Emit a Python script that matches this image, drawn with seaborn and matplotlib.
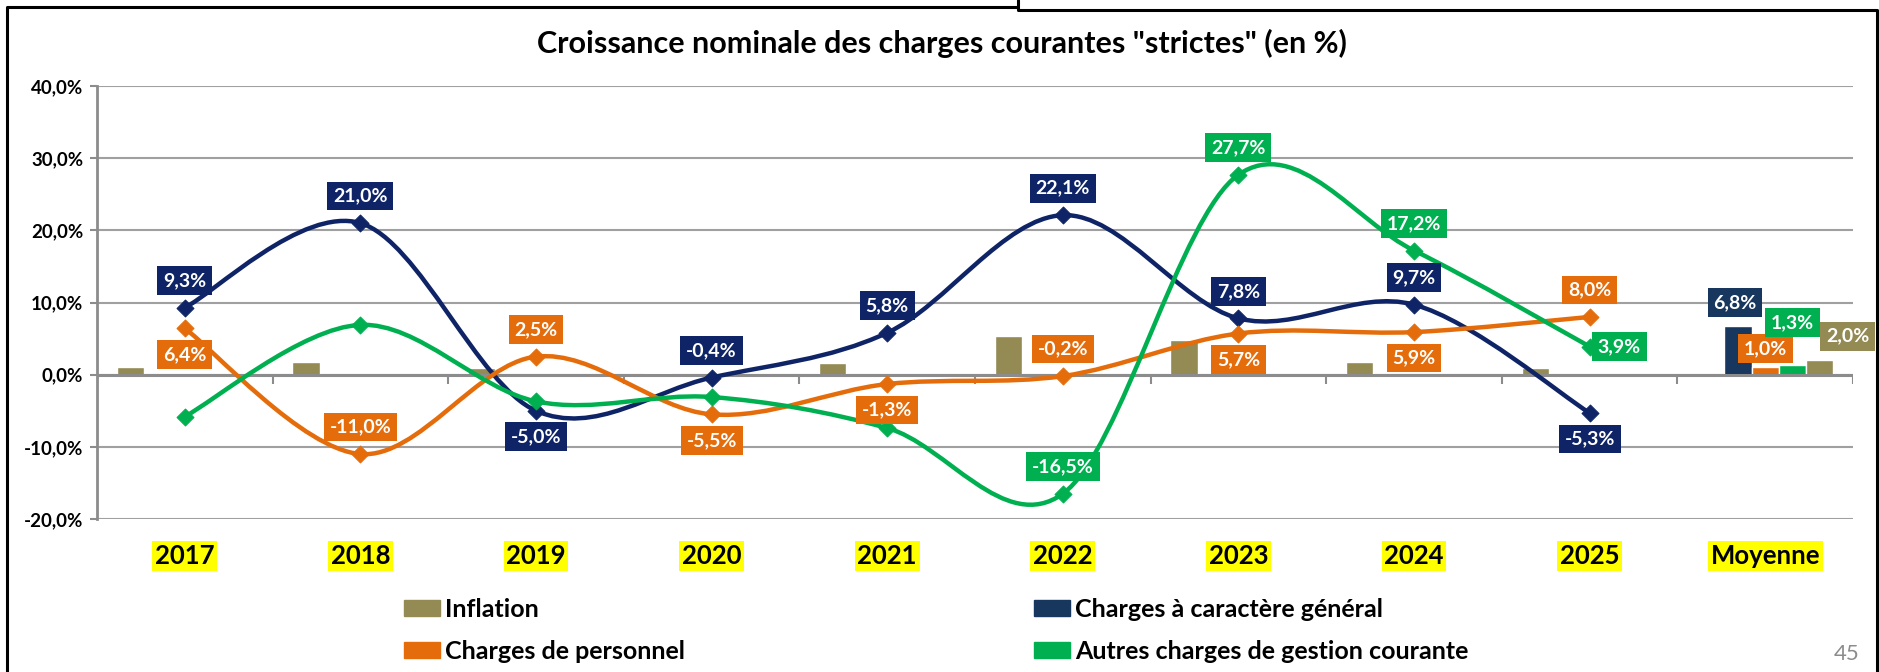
import numpy as np
import matplotlib
matplotlib.use("Agg")
import matplotlib.pyplot as plt
from matplotlib.path import Path
from matplotlib.patches import PathPatch, Patch
from matplotlib.lines import Line2D
import seaborn as sns

# Données (en %)
categories = ['2017', '2018', '2019', '2020', '2021', '2022', '2023', '2024', '2025', 'Moyenne']
inflation = [1.0, 1.7, 0.9, 0.2, 1.6, 5.3, 4.8, 1.8, 0.9]
charges_generales = [9.3, 21.0, -5.0, -0.4, 5.8, 22.1, 7.8, 9.7, -5.3]
charges_personnel = [6.4, -11.0, 2.5, -5.5, -1.3, -0.2, 5.7, 5.9, 8.0]
autres_charges = [-5.8, 6.9, -3.7, -3.1, -7.4, -16.5, 27.7, 17.2, 3.9]
moyennes = {'generales': 6.8, 'personnel': 1.0, 'autres': 1.3, 'inflation': 2.0}
y_ticks = [-20, -10, 0, 10, 20, 30, 40]

# Couleurs
C_INFL = '#948A54'
C_NAVY = '#0E2466'
C_NAVY_BAR = '#17375E'
C_ORANGE = '#E46C0A'
C_GREEN = '#00B050'
C_GRID = '#A0A0A0'

# Position des étiquettes (up / down / right / None)
pos_generales = ['up', 'up', 'down', 'up', 'up', 'up', 'up', 'up', 'down']
pos_personnel = ['down', 'up', 'up', 'down', 'down', 'up', 'down', 'down', 'up']
pos_autres = [None, None, None, None, None, 'up', 'up', 'up', 'right']

sns.set_theme(style='white')
plt.rcParams['font.family'] = ['Lato', 'DejaVu Sans']
for k in ['text.color', 'axes.labelcolor', 'xtick.color', 'ytick.color']:
    plt.rcParams[k] = 'black'

W, H = 1879, 672
fig = plt.figure(figsize=(W / 100, H / 100), dpi=100)
ax = fig.add_axes([97 / W, 1 - 519 / H, (1853 - 97) / W, (519 - 86) / H])


def fmt(v):
    return f"{v:.1f}".replace('.', ',') + '%'


def smooth_path(xs, ys):
    # lissage type Excel (Bezier / Catmull-Rom)
    pts = np.column_stack([xs, ys]).astype(float)
    n = len(pts)
    verts, codes = [pts[0]], [Path.MOVETO]
    for i in range(n - 1):
        p0 = pts[i - 1] if i > 0 else pts[i]
        p1, p2 = pts[i], pts[i + 1]
        p3 = pts[i + 2] if i + 2 < n else pts[i + 1]
        verts += [p1 + (p2 - p0) / 6, p2 - (p3 - p1) / 6, p2]
        codes += [Path.CURVE4] * 3
    return Path(verts, codes)


def label(x, y, v, color, dx, dy, ha='center'):
    ax.annotate(fmt(v), (x, y), xytext=(dx, dy), textcoords='offset pixels',
                ha=ha, va='center', color='white', fontweight='bold', fontsize=14,
                bbox=dict(boxstyle='square,pad=0.3', fc=color, ec='none'), zorder=10)


OFFS = {'up': (0, 27), 'down': (0, -26), 'right': (8, 0)}

x_years = np.arange(len(inflation))
x_moy = len(inflation)
slot = 0.155

# barres inflation (années)
ax.bar(x_years - 2 * slot, inflation, width=slot, color=C_INFL, zorder=2)

# barres moyenne
moy_vals = [moyennes['generales'], moyennes['personnel'], moyennes['autres'], moyennes['inflation']]
moy_cols = [C_NAVY_BAR, C_ORANGE, C_GREEN, C_INFL]
for k, (v, c) in enumerate(zip(moy_vals, moy_cols)):
    ax.bar(x_moy + (k - 1) * slot, v, width=slot, color=c, zorder=2)

# courbes lissées
series = [(charges_generales, C_NAVY, pos_generales),
          (charges_personnel, C_ORANGE, pos_personnel),
          (autres_charges, C_GREEN, pos_autres)]
for vals, col, pos in series:
    ax.add_patch(PathPatch(smooth_path(x_years, vals), fc='none', ec=col, lw=3.2, zorder=4,
                           capstyle='round', joinstyle='round'))
    sns.scatterplot(x=x_years, y=vals, marker='D', s=75, color=col, edgecolor=col,
                    zorder=5, ax=ax, legend=False)

for vals, col, pos in series:
    for x, v, p in zip(x_years, vals, pos):
        if p is None:
            continue
        dx, dy = OFFS[p]
        label(x, v, v, col, dx, dy, ha='left' if p == 'right' else 'center')

# étiquettes moyenne
moy_offs = [(-3, 23), (0, 19), (0, 43), (28, 24)]
moy_lab_cols = [C_NAVY_BAR, C_ORANGE, C_GREEN, C_INFL]
for k, (v, c, (dx, dy)) in enumerate(zip(moy_vals, moy_lab_cols, moy_offs)):
    label(x_moy + (k - 1) * slot, v, v, c, dx, dy)

# axes
ax.set_xlim(-0.5, len(categories) - 0.5)
ax.set_ylim(-20, 40)
ax.set_yticks(y_ticks)
ax.set_yticklabels([fmt(t) for t in y_ticks], fontweight='bold', fontsize=13.5)
ax.yaxis.grid(True, color=C_GRID, lw=1.5, zorder=0)
ax.tick_params(axis='y', length=5, width=1.5, color='#8C8C8C', pad=5, left=True)
for s in ['top', 'right', 'bottom']:
    ax.spines[s].set_visible(False)
ax.spines['left'].set_color('#8C8C8C')
ax.spines['left'].set_linewidth(2)
ax.axhline(0, color='#8C8C8C', lw=2.2, zorder=3)
ax.vlines(np.arange(len(categories) + 1) - 0.5, -1.3, 0, color='#8C8C8C', lw=1.5, zorder=3)

ax.set_xticks(np.arange(len(categories)))
ax.set_xticklabels(categories, fontweight='bold', fontsize=18.5)
ax.tick_params(axis='x', length=0, pad=18)
for t in ax.get_xticklabels():
    t.set_bbox(dict(boxstyle='square,pad=0.1', fc='#FFFF00', ec='none'))

# titre
fig.text(942 / W, 1 - 43 / H, 'Croissance nominale des charges courantes "strictes" (en %)',
         ha='center', va='center', fontsize=22, fontweight='bold')

# légende en deux colonnes
leg_kw = dict(frameon=False, prop={'weight': 'bold', 'size': 18}, handlelength=1.45,
              handleheight=0.62, handletextpad=0.2, labelspacing=0.75, borderpad=0,
              borderaxespad=0, loc='upper left')
fig.legend([Patch(color=C_INFL), Patch(color=C_ORANGE)],
           ['Inflation', 'Charges de personnel'],
           bbox_to_anchor=(404 / W, 1 - 598 / H), **leg_kw)
fig.legend([Patch(color=C_NAVY_BAR), Patch(color=C_GREEN)],
           ['Charges à caractère général', 'Autres charges de gestion courante'],
           bbox_to_anchor=(1034 / W, 1 - 598 / H), **leg_kw)


# cadre et numéro de page
def fline(xs, ys):
    fig.add_artist(Line2D([x / W for x in xs], [1 - y / H for y in ys], color='black',
                          lw=2.2, transform=fig.transFigure))


fline([7, 7, 1018], [672, 7, 7])
fline([1018, 1018, 1877, 1877], [0, 10, 10, 672])
fig.text(1860 / W, 1 - 654 / H, '45', ha='right', va='center', fontsize=16, color='#8C8C8C')

fig.savefig('out.png', dpi=100)
